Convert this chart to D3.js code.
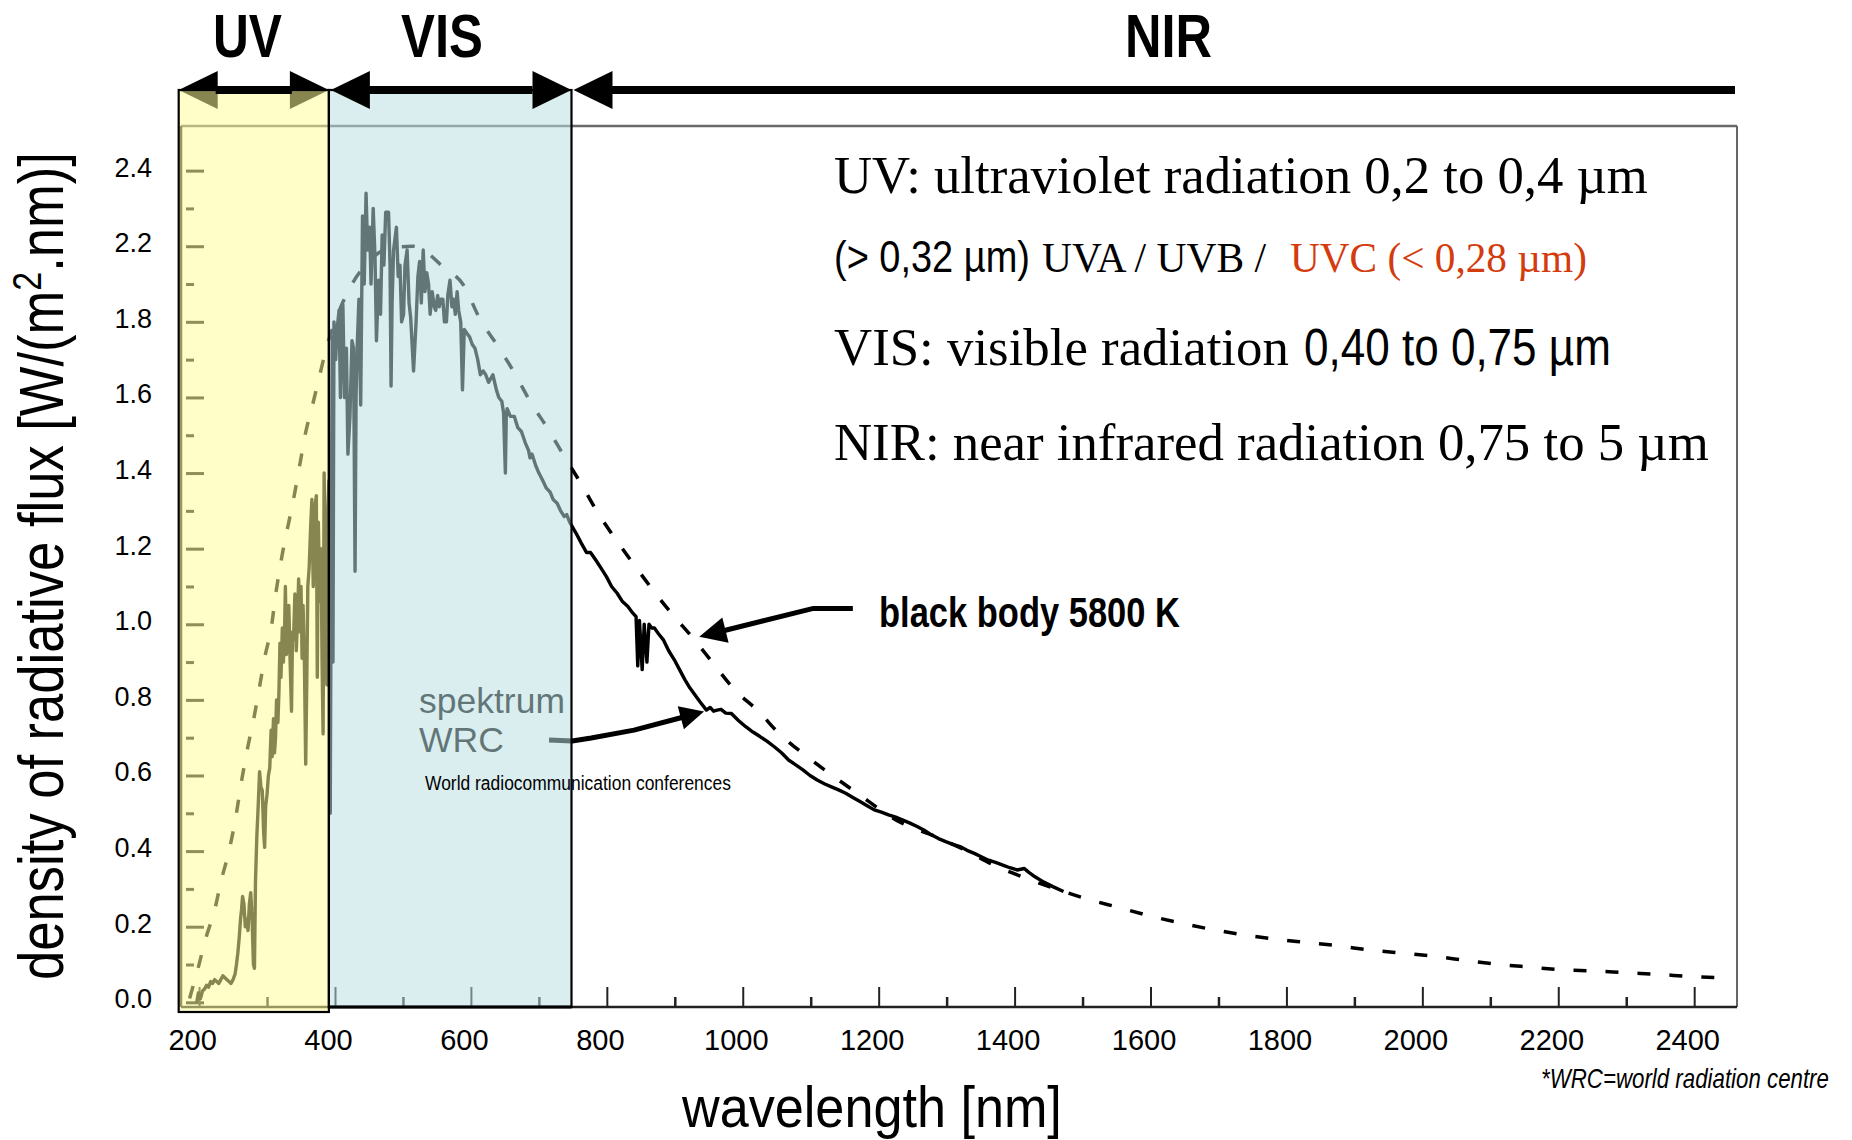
<!DOCTYPE html>
<html><head><meta charset="utf-8">
<script src="https://cdn.jsdelivr.net/npm/d3@7"></script>
<style>
html,body{margin:0;padding:0;background:#fff;}
svg{display:block;}
</style></head><body>
<svg id="chart" width="1852" height="1140"></svg>
<script>
// ---------------- data ----------------
// WRC measured solar spectrum: wavelength [nm] and flux [W/(m2.nm)]
const spectrumNm = [196.6,199,202,205,208,211,214,217,220,223,226,229,232,235,238,241,244,247,250,253,255,257,259,261,262.5,264,266,268,270,272,274,276,278,280,281.5,283,285,287,289,291,293,295,296.5,298,300,302,304,306,307.5,309.5,311,312.5,314,316,317.5,319,320.5,322.5,324,325.5,327,328.5,330.5,332,334,336,337.5,339,341,343,345,346.5,348,350,351.6,353,355,356.9,358.5,360,362,364,366,368,370,372.5,374,375.5,377.5,379.5,381,382.5,384,386,388,389.5,391,393,394.5,396,397,398.5,401,403,406,408,410,411.6,414,416.8,419,422,425,427.3,429.5,431,432.6,435.2,437.8,440.5,443,445.7,448,451,453,456.2,458.9,461,464.1,467,469.4,472,474.6,478.8,481,482.5,484,486.2,490.4,493,495.6,498,500.9,503,506.1,509,511.4,515.6,519.3,522,524.5,527,529.8,532.4,535,537.7,540,543,546,548.2,551,553.5,556,558.7,561,564,566,569.2,572,574.5,577,579.7,582,585,587.6,590.2,594,598.1,602,606,610,613.9,618,621.8,626,632.3,637.5,641,645.4,648,650.7,652,653.3,658,663.8,669,674.3,680,684.8,687,690,695.3,700,705.8,711,716.4,721,726.9,732,737.4,741,745.3,755,762.6,770,776,783.7,791,799.4,807,815.2,823,831,838,843,845.5,848,852,855,859,862,866,870,876,883.5,891,899.3,907,915,921,928.2,937,946.6,952,957,962.3,968,975,983.3,994,1004.4,1015,1025.4,1036,1046.4,1057,1067.4,1078,1088.5,1099,1109.5,1120,1130.5,1141,1151.5,1162,1172.5,1183,1193.5,1204,1214.5,1225,1235.6,1246,1256.6,1267,1277.6,1288,1298.7,1309,1319.7,1330,1340.7,1351,1361.7,1372,1382.7,1393,1403.7,1414.3,1420,1430,1443,1456.3,1472];
const spectrumFlux = [0.00,0.025,0.01,0.03,0.035,0.045,0.04,0.055,0.05,0.06,0.055,0.05,0.06,0.07,0.065,0.06,0.055,0.05,0.06,0.075,0.10,0.13,0.17,0.22,0.245,0.28,0.26,0.20,0.22,0.19,0.26,0.29,0.22,0.10,0.09,0.32,0.44,0.52,0.61,0.57,0.56,0.45,0.41,0.52,0.55,0.60,0.62,0.72,0.65,0.75,0.66,0.70,0.80,0.74,0.82,0.95,0.86,0.99,0.90,0.95,1.10,0.92,0.98,1.05,0.90,0.77,0.98,0.96,1.08,0.93,1.02,1.12,0.98,1.10,0.91,1.05,0.90,0.63,0.85,1.10,1.15,1.25,1.33,1.10,1.30,1.34,0.86,1.27,1.06,1.20,0.90,0.71,1.40,1.10,0.84,1.30,1.38,0.50,1.20,1.76,0.90,1.80,1.70,1.78,1.83,1.60,1.78,1.845,1.60,1.73,1.45,1.55,1.75,1.73,1.14,1.60,1.73,1.86,1.58,2.08,1.90,2.14,1.99,2.05,1.90,2.10,1.97,1.75,1.91,1.82,2.03,1.95,2.09,2.09,1.95,1.63,1.85,1.99,2.05,1.92,1.95,1.80,1.82,1.95,1.99,1.85,1.81,1.67,1.80,1.92,1.96,1.85,1.99,1.88,1.93,1.90,1.82,1.88,1.84,1.83,1.87,1.84,1.86,1.86,1.80,1.80,1.87,1.91,1.84,1.86,1.82,1.88,1.83,1.80,1.62,1.78,1.77,1.76,1.74,1.73,1.70,1.66,1.67,1.66,1.64,1.66,1.62,1.60,1.59,1.56,1.40,1.55,1.57,1.55,1.55,1.52,1.51,1.48,1.46,1.44,1.45,1.42,1.40,1.38,1.36,1.35,1.33,1.32,1.30,1.285,1.29,1.27,1.24,1.214,1.19,1.19,1.17,1.15,1.126,1.10,1.082,1.06,1.047,1.03,1.02,0.89,1.01,0.88,1.00,0.90,1.00,0.99,0.99,0.975,0.958,0.93,0.906,0.88,0.853,0.835,0.817,0.795,0.773,0.780,0.770,0.773,0.775,0.765,0.764,0.745,0.729,0.715,0.703,0.69,0.676,0.66,0.641,0.628,0.615,0.60,0.588,0.578,0.570,0.562,0.553,0.542,0.531,0.52,0.509,0.503,0.496,0.49,0.482,0.474,0.465,0.455,0.443,0.433,0.425,0.418,0.412,0.402,0.394,0.385,0.376,0.37,0.363,0.356,0.350,0.354,0.345,0.332,0.318,0.306,0.293];

// black body 5800 K curve
const blackbodyNm = [186,190,197,210,223,233,244,254,262,270,281,289,297,307,312,320,341,349,356,367,377,388,400,422,450,480,515,530,559,588,614,640,664,687,714,737,761,785,811,839,868,897,926,955,989,1023,1054,1091,1128,1167,1228,1288,1330,1367,1414,1466,1507,1553,1598,1646,1690,1739,1785,1832,1878,1924,1972,2020,2067,2113,2159,2206,2252,2302,2348,2395,2442];
const blackbodyFlux = [0.01,0.035,0.08,0.17,0.245,0.325,0.40,0.49,0.58,0.66,0.755,0.835,0.915,1.0,1.07,1.16,1.35,1.43,1.50,1.58,1.655,1.735,1.80,1.89,1.96,1.995,2.0,1.99,1.945,1.90,1.805,1.735,1.665,1.59,1.515,1.445,1.375,1.30,1.23,1.16,1.09,1.025,0.965,0.90,0.825,0.77,0.71,0.655,0.605,0.555,0.48,0.435,0.40,0.365,0.33,0.297,0.273,0.251,0.229,0.209,0.193,0.178,0.167,0.158,0.149,0.138,0.130,0.121,0.110,0.100,0.093,0.086,0.083,0.078,0.074,0.068,0.065];

// axes
const xMajorTicks = [200,400,600,800,1000,1200,1400,1600,1800,2000,2200,2400];
const xMinorTicks = [300,500,700,900,1100,1300,1500,1700,1900,2100,2300];
const yTickValues = [0,0.2,0.4,0.6,0.8,1.0,1.2,1.4,1.6,1.8,2.0,2.2];
const yTickLabels = ["0.0","0.2","0.4","0.6","0.8","1.0","1.2","1.4","1.6","1.8","2.2","2.4"];
const yMinorTicks = [0.1,0.3,0.5,0.7,0.9,1.1,1.3,1.5,1.7,1.9,2.1];

// spectral bands [nm]
const bandNames = ["UV","VIS","NIR"];
const bandStart = [170,391,748];
const bandEnd = [391,748,2463];

// annotation arrows (data units)
const bbArrowNm = [1162,1104,936];
const bbArrowFlux = [1.042,1.042,0.967];
const wrcArrowNm = [715,749,777,840,943];
const wrcArrowFlux = [0.694,0.691,0.699,0.720,0.769];

// ---------------- drawing ----------------
const NARROW = "'Liberation Sans Narrow','Arial Narrow','Liberation Sans',Arial,sans-serif";
const SANS = "'Liberation Sans',Arial,sans-serif";
const SERIF = "'Liberation Serif','Times New Roman',serif";

const svg = d3.select('#chart');
svg.append('rect').attr('width',1852).attr('height',1140).attr('fill','#fff');

const x = d3.scaleLinear().domain([173.4, 2463]).range([181, 1737]);
const y = d3.scaleLinear().domain([-0.0124, 2.318]).range([1007, 126]);
const [x0, x1] = x.range();
const [yb, yt] = y.range();

// fit a text to a given width with a horizontal scale (true bounding box)
function fit(t, xp, yp, len, rot){
  t.attr('x',0).attr('y',0);
  const w = t.node().getComputedTextLength();
  const sx = len / w;
  t.attr('transform', `translate(${xp},${yp})${rot?` rotate(${rot})`:''} scale(${sx},1)`);
  return t;
}

// frame
const frame = svg.append('g');
frame.append('line').attr('x1',x0).attr('x2',x1).attr('y1',yt).attr('y2',yt).attr('stroke','#6a6a6a').attr('stroke-width',2.5);
frame.append('line').attr('x1',x1).attr('x2',x1).attr('y1',yt).attr('y2',yb).attr('stroke','#666').attr('stroke-width',2);
frame.append('line').attr('x1',x0).attr('x2',x0).attr('y1',yt).attr('y2',yb).attr('stroke','#222').attr('stroke-width',2.5);
frame.append('line').attr('x1',x0).attr('x2',x1).attr('y1',yb).attr('y2',yb).attr('stroke','#222').attr('stroke-width',2.5);

// y axis ticks + labels
const yAx = svg.append('g').attr('transform',`translate(${x0+23},0)`)
  .call(d3.axisLeft(y).tickValues(yTickValues).tickSize(18).tickPadding(34).tickFormat((d,i)=>yTickLabels[i]));
yAx.select('.domain').remove();
yAx.selectAll('.tick line').attr('stroke','#111').attr('stroke-width',3);
yAx.selectAll('.tick text').attr('font-family',SANS).attr('font-size',27).attr('fill','#000').attr('dy','0.2em');
const yMin = svg.append('g').attr('transform',`translate(${x0+13},0)`)
  .call(d3.axisLeft(y).tickValues(yMinorTicks).tickSize(8).tickFormat(''));
yMin.select('.domain').remove();
yMin.selectAll('.tick line').attr('stroke','#111').attr('stroke-width',3);

// x axis ticks + labels
const xAx = svg.append('g').attr('transform',`translate(0,${yb})`)
  .call(d3.axisBottom(x).tickValues(xMajorTicks).tickSize(-20).tickFormat(d3.format('d')));
xAx.select('.domain').remove();
xAx.selectAll('.tick line').attr('stroke','#222').attr('stroke-width',2);
xAx.selectAll('.tick text').attr('font-family',NARROW).attr('font-size',29).attr('fill','#000')
  .attr('y',43).attr('dy',null).attr('dx',-7);
const xMin = svg.append('g').attr('transform',`translate(0,${yb})`)
  .call(d3.axisBottom(x).tickValues(xMinorTicks).tickSize(-10).tickFormat(''));
xMin.select('.domain').remove();
xMin.selectAll('.tick line').attr('stroke','#222').attr('stroke-width',2.5);

// black body dashed curve
const bbData = blackbodyNm.map((d,i)=>[d, blackbodyFlux[i]]);
svg.append('path').datum(bbData)
  .attr('d', d3.line().x(d=>x(d[0])).y(d=>y(d[1])).curve(d3.curveMonotoneX))
  .attr('fill','none').attr('stroke','#000').attr('stroke-width',3.5).attr('stroke-dasharray','13,19');

// measured spectrum
const spData = spectrumNm.map((d,i)=>[d, spectrumFlux[i]]);
svg.append('path').datum(spData)
  .attr('d', d3.line().x(d=>x(d[0])).y(d=>y(d[1])))
  .attr('fill','none').attr('stroke','#000').attr('stroke-width',3.4).attr('stroke-linejoin','round');

// helper for arrowheads
function head(tip, from, len, hw){
  const dx=tip[0]-from[0], dy=tip[1]-from[1], L=Math.hypot(dx,dy), ux=dx/L, uy=dy/L;
  const bx=tip[0]-ux*len, by=tip[1]-uy*len;
  return {poly:[[tip[0],tip[1]],[bx-uy*hw,by+ux*hw],[bx+uy*hw,by-ux*hw]], base:[bx+ux*2,by+uy*2]};
}
function drawArrow(g, pts, len, hw, width){
  const tip = pts[pts.length-1], prev = pts[pts.length-2];
  const h = head(tip, prev, len, hw);
  const linePts = pts.slice(0,-1).concat([h.base]);
  g.append('path').attr('d', d3.line()(linePts)).attr('fill','none').attr('stroke','#000')
    .attr('stroke-width',width).attr('stroke-linejoin','round');
  g.append('polygon').attr('points', h.poly.map(p=>p.join(',')).join(' ')).attr('fill','#000');
}

// text helper
function txt(xp, yp, s, fam, size, len, extra){
  const t = svg.append('text').attr('font-family',fam).attr('font-size',size).attr('fill','#000').text(s);
  if(extra) extra(t);
  if(len) fit(t, xp, yp, len); else t.attr('x',xp).attr('y',yp);
  return t;
}

// spektrum WRC label (under the blue band)
txt(419,713,'spektrum',SANS,35,146);
txt(419,752,'WRC',SANS,35,85);
drawArrow(svg.append('g'), wrcArrowNm.map((d,i)=>[x(d), y(wrcArrowFlux[i])]), 24, 12, 5);

// black body arrow
drawArrow(svg.append('g'), bbArrowNm.map((d,i)=>[x(d), y(bbArrowFlux[i])]), 27, 13, 5);

// band arrows
const aY = 90, aLen = 39, aHW = 19, aW = 8;
function bandHeads(g, xl, xr, left, right){
  if(left) g.append('polygon').attr('points',[[xl,aY],[xl+aLen,aY-aHW],[xl+aLen,aY+aHW]].map(p=>p.join(',')).join(' ')).attr('fill','#000');
  if(right) g.append('polygon').attr('points',[[xr,aY],[xr-aLen,aY-aHW],[xr-aLen,aY+aHW]].map(p=>p.join(',')).join(' ')).attr('fill','#000');
}
// UV heads sit under the yellow overlay
bandHeads(svg.append('g'), x(bandStart[0]), x(bandEnd[0]), true, true);

// overlays
const overlayFill = ['#fffb97','#b9dfe2'];
const overlayBottom = [1012, yb];
[0,1].forEach(i=>{
  svg.append('rect').attr('x',x(bandStart[i])).attr('y',aY)
    .attr('width',x(bandEnd[i])-x(bandStart[i])).attr('height',overlayBottom[i]-aY)
    .attr('fill',overlayFill[i]).attr('opacity',0.53);
});
[0,1].forEach(i=>{
  svg.append('rect').attr('x',x(bandStart[i])).attr('y',aY)
    .attr('width',x(bandEnd[i])-x(bandStart[i])).attr('height',overlayBottom[i]-aY)
    .attr('fill','none').attr('stroke','#000').attr('stroke-width',2.2);
});
svg.append('line').attr('x1',x(bandStart[1])).attr('x2',x(bandEnd[1])).attr('y1',yb).attr('y2',yb).attr('stroke','#000').attr('stroke-width',3);

// band arrow lines and remaining heads
const arr = svg.append('g');
arr.append('line').attr('x1',x(bandStart[0])+aLen-2).attr('x2',x(bandEnd[0])-aLen+2).attr('y1',aY).attr('y2',aY).attr('stroke','#000').attr('stroke-width',aW);
arr.append('line').attr('x1',x(bandStart[1])+aLen).attr('x2',x(bandEnd[1])-aLen).attr('y1',aY).attr('y2',aY).attr('stroke','#000').attr('stroke-width',aW);
bandHeads(arr, x(bandStart[1])+2, x(bandEnd[1]), true, true);
arr.append('line').attr('x1',x(bandStart[2])+aLen).attr('x2',x(bandEnd[2])-2).attr('y1',aY).attr('y2',aY).attr('stroke','#000').attr('stroke-width',aW);
bandHeads(arr, x(bandStart[2])+2, 0, true, false);

// band titles
const titleX = [213,401,1125], titleLen = [69,82,87];
bandNames.forEach((n,i)=>{
  txt(titleX[i],57,n,NARROW,61,titleLen[i], t=>t.attr('font-weight','bold'));
});

// description texts
txt(834,193,'UV: ultraviolet radiation 0,2 to 0,4 \u00b5m',SERIF,52,814);
txt(834,272,'(> 0,32 \u00b5m)',NARROW,44,196);
txt(1042,272,'UVA / UVB /',SERIF,42,224);
txt(1290,272,'UVC (< 0,28 \u00b5m)',SERIF,42,297, t=>t.attr('fill','#d23c0e'));
txt(834,365,'VIS: visible radiation',SERIF,52,455);
txt(1304,365,'0,40 to 0,75 \u00b5m',NARROW,52,307);
txt(834,460,'NIR: near infrared radiation 0,75 to 5 \u00b5m',SERIF,52,875);

txt(879,627,'black body 5800 K',NARROW,42,301, t=>t.attr('font-weight','bold'));
txt(425,790,'World radiocommunication conferences',NARROW,21,306);
txt(1541,1088,'*WRC=world radiation centre',NARROW,27,288, t=>t.attr('font-style','italic'));

// axis titles
txt(682,1127,'wavelength [nm]',NARROW,57,380);
const yt2 = svg.append('text').attr('text-anchor','middle')
  .attr('font-family',NARROW).attr('font-size',62).attr('fill','#000');
yt2.append('tspan').text('density of radiative flux [W/(m');
yt2.append('tspan').attr('font-size',40).attr('dy',-22).text('2');
yt2.append('tspan').attr('dy',22).text('.nm)]');
fit(yt2, 63, 566, 828, -90);
</script></body></html>
